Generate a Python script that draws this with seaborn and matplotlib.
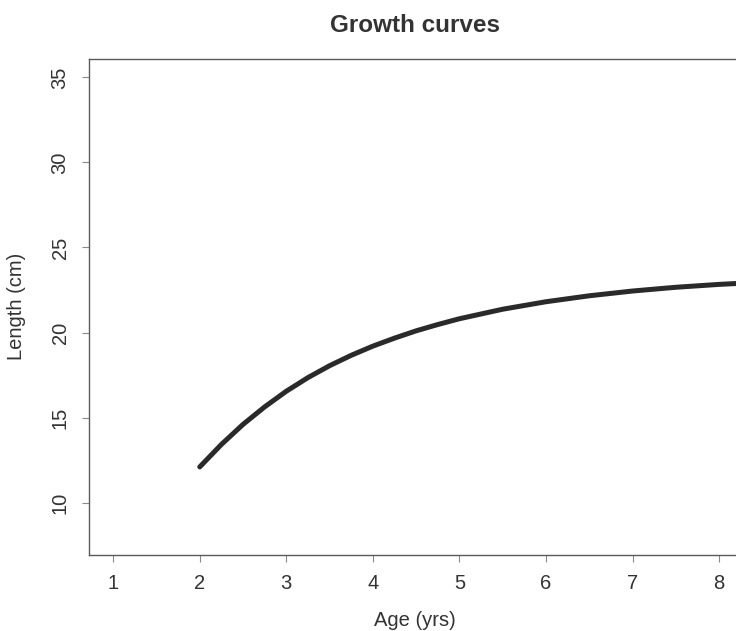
import matplotlib
matplotlib.use("Agg")
import matplotlib.pyplot as plt
import seaborn as sns
import pandas as pd

# Mean length-at-age
age_yrs = [2.0, 2.25, 2.5, 2.75, 3.0, 3.25, 3.5, 3.75, 4.0, 4.25, 4.5, 4.75, 5.0,
           5.5, 6.0, 6.5, 7.0, 7.5, 8.0, 8.5]
length_cm = [12.1, 13.42, 14.6, 15.63, 16.55, 17.35, 18.05, 18.66, 19.2, 19.67, 20.1, 20.47, 20.81,
             21.37, 21.81, 22.16, 22.44, 22.66, 22.83, 22.96]

x_ticks = [1, 2, 3, 4, 5, 6, 7, 8]
y_ticks = [10, 15, 20, 25, 30, 35]

title_text = "Growth curves"
x_label = "Age (yrs)"
y_label = "Length (cm)"

sns.set_theme(style="white")
plt.rcParams["font.family"] = ["Liberation Sans", "DejaVu Sans"]

ink = "#333333"
frame = "#5a5a5a"

fig = plt.figure(figsize=(7.36, 6.31), dpi=100)
ax = fig.add_axes([0.1209, 0.1204, 0.8890, 0.7861])

df = pd.DataFrame({"age": age_yrs, "length": length_cm})
sns.lineplot(data=df, x="age", y="length", ax=ax, color="#2a2a2a",
             linewidth=3.6, solid_capstyle="round", solid_joinstyle="round")

ax.set_xlim(0.72, 8.28)
ax.set_ylim(6.92, 36.08)
ax.set_xticks(x_ticks)
ax.set_yticks(y_ticks)
ax.set_xticklabels([str(v) for v in x_ticks])
ax.set_yticklabels([str(v) for v in y_ticks], rotation=90, va="center")

for side in ["left", "right", "top", "bottom"]:
    ax.spines[side].set_visible(True)
    ax.spines[side].set_color(frame)
    ax.spines[side].set_linewidth(1.0)

ax.tick_params(axis="both", which="major", direction="out", length=5,
               width=0.8, color="#8a8a8a", labelsize=14.5, labelcolor=ink, pad=9)
ax.tick_params(axis="both", bottom=True, left=True, top=False, right=False)

ax.set_xlabel(x_label, fontsize=14.5, color=ink)
ax.set_ylabel(y_label, fontsize=14.5, color=ink)
ax.xaxis.set_label_coords(0.498, -0.113)
ax.yaxis.set_label_coords(-0.096, 0.501)

fig.text(415 / 736, 1 - 32 / 631, title_text, ha="center", va="baseline",
         fontsize=17.5, fontweight="bold", color=ink)

fig.savefig("out.png", dpi=100, facecolor="white")
